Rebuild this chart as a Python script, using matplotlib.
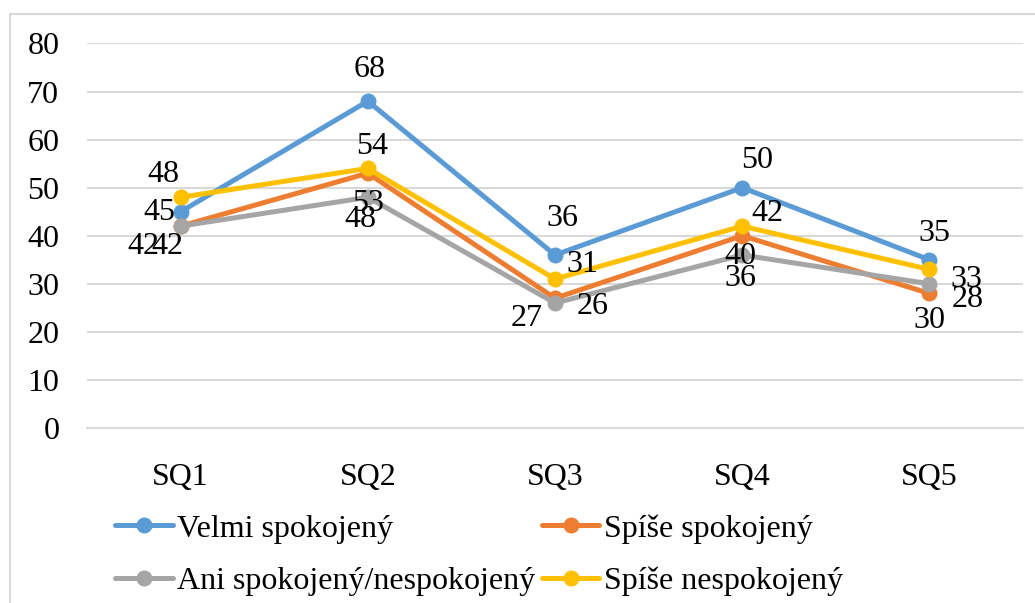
import matplotlib
matplotlib.use('Agg')
import matplotlib.pyplot as plt
from matplotlib.patches import Rectangle

plt.rcParams['font.family'] = ['Liberation Serif', 'DejaVu Serif']

# data
categories = ['SQ1', 'SQ2', 'SQ3', 'SQ4', 'SQ5']
series_names = ['Velmi spokojený', 'Spíše spokojený',
                'Ani spokojený/nespokojený', 'Spíše nespokojený']
velmi = [45, 68, 36, 50, 35]
spise_spok = [42, 53, 27, 40, 28]
ani = [42, 48, 26, 36, 30]
spise_nespok = [48, 54, 31, 42, 33]

colors = ['#5B9BD5', '#ED7D31', '#A5A5A5', '#FFC000']

# label offsets in pixels (dx, dy), taken from the excel layout
offsets = [
    [(-21, -1), (2, 32), (7, 36), (15, 27), (5, 26)],
    [(-37, -20), (0, -30), (-28, -20), (-2, -21), (38, -6)],
    [(-13, -20), (-7, -22), (38, -3), (-2, -24), (0, -37)],
    [(-17, 23), (4, 22), (27, 15), (25, 13), (37, -10)],
]

fs = 23

fig = plt.figure(figsize=(10.35, 6.03), dpi=100)
ax = fig.add_axes([0.0841, 0.2902, 0.9043, 0.6377])

x = list(range(len(categories)))
all_series = [velmi, spise_spok, ani, spise_nespok]
lines = []
for vals, name, col, offs in zip(all_series, series_names, colors, offsets):
    ln, = ax.plot(x, vals, color=col, lw=3.6, marker='o', ms=10.5, label=name,
                  solid_capstyle='round')
    lines.append(ln)
    for xi, v, (dx, dy) in zip(x, vals, offs):
        ax.annotate(str(v), (xi, v), xytext=(dx, dy), textcoords='offset pixels',
                    ha='center', va='center', fontsize=fs, color='black')

ax.set_xlim(-0.5, 4.5)
ax.set_ylim(0, 80)
ax.set_yticks(range(0, 81, 10))
ax.set_xticks(x)
ax.set_xticklabels(categories)
ax.tick_params(length=0, labelsize=fs)
ax.tick_params(axis='x', pad=25)
ax.tick_params(axis='y', pad=20)
ax.grid(axis='y', color='#D9D9D9', lw=1.5)
ax.set_axisbelow(True)
for s in ['top', 'right', 'left']:
    ax.spines[s].set_visible(False)
ax.spines['bottom'].set_color('#D9D9D9')
ax.spines['bottom'].set_linewidth(1.5)

# legend is filled column by column, so reorder to get excel's row order
order = [0, 2, 1, 3]
ax.legend([lines[i] for i in order], [series_names[i] for i in order],
          ncol=2, loc='upper left', bbox_to_anchor=(115 / 1035, 1 - 514 / 603),
          bbox_transform=fig.transFigure, frameon=False, fontsize=fs,
          handlelength=1.8, handletextpad=0.15, columnspacing=0.2,
          labelspacing=0.72, borderpad=0, borderaxespad=0)

# chart area border
fig.patches.append(Rectangle((10 / 1035, -0.1), 1.2, 1 - 14 / 603 + 0.1,
                             transform=fig.transFigure, fill=False,
                             edgecolor='#D9D9D9', lw=1.5))

fig.savefig('out.png', dpi=100)
